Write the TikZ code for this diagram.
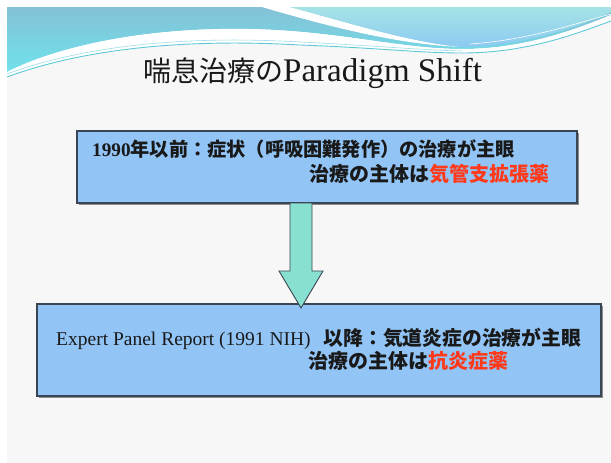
\documentclass[tikz,border=0pt]{standalone}
\usepackage{fontspec}
\setmainfont{Liberation Serif}
\newfontfamily\cjk{Noto Sans CJK JP}
\definecolor{slidebg}{HTML}{F7F7F7}
\definecolor{boxfill}{HTML}{92C5F6}
\definecolor{boxline}{HTML}{3A4654}
\definecolor{arrowfill}{HTML}{88E0D0}
\definecolor{redtxt}{HTML}{FF3A1A}
\definecolor{waveA}{HTML}{84C1D6}
\definecolor{waveB}{HTML}{6FE2EC}
\definecolor{waveC}{HTML}{A6E3E5}
\definecolor{waveD}{HTML}{8CCAF2}
\definecolor{waveline}{HTML}{5EC8D8}
\tikzset{
  slidebox/.style={draw=boxline, line width=1.1pt, fill=boxfill, inner sep=0pt},
  txt/.style={inner sep=0pt, text=black!90},
}
\begin{document}
\begin{tikzpicture}[x=1pt,y=-1pt]
\useasboundingbox (0,0) rectangle (611,463);
\fill[white] (0,0) rectangle (611,463);
\fill[slidebg] (7,7) rectangle (611,463);
% header waves
\shade[top color=waveA, bottom color=waveB]
  (7,7) -- (611,7) -- (611,15) .. controls (570,32) and (520,49) .. (462,49)
  .. controls (400,49) and (340,31) .. (250,29)
  .. controls (150,27) and (60,45) .. (7,72) -- cycle;
\fill[white] (7,72) .. controls (60,45) and (150,27) .. (250,29)
  .. controls (340,31) and (400,49) .. (462,49)
  .. controls (520,49) and (570,32) .. (611,15) -- (611,21)
  .. controls (580,32) and (530,53) .. (462,53)
  .. controls (420,53) and (380,48) .. (300,45)
  .. controls (180,38) and (80,50) .. (7,77) -- cycle;
\draw[waveline, line width=0.9pt] (7,77) .. controls (80,50) and (180,38) .. (300,45)
  .. controls (380,48) and (420,53) .. (462,53)
  .. controls (530,53) and (580,32) .. (611,21);
\draw[waveline!60, line width=0.6pt] (7,74) .. controls (80,47) and (180,35) .. (300,42)
  .. controls (380,46) and (420,50) .. (462,51);
\fill[white] (262,7) -- (290,7) .. controls (360,26) and (410,42) .. (462,47)
  .. controls (410,45) and (350,33) .. (262,7) -- cycle;
\shade[top color=waveC, bottom color=waveD]
  (290,7) -- (611,7) -- (611,12) .. controls (570,30) and (520,46) .. (462,47)
  .. controls (410,42) and (360,26) .. (290,7) -- cycle;
\draw[white, line width=0.6pt] (470,44) .. controls (530,40) and (580,22) .. (611,14);
% title
\node[txt, anchor=base west] (title) at (143,81)
  {{\cjk\fontsize{28}{32}\selectfont 喘息治療の}{\fontsize{33}{36}\selectfont Paradigm Shift}};
% boxes
\fill[black!45] (79,133) rectangle (579,205);
\node[slidebox, minimum width=500pt, minimum height=72pt] (box1) at (327,167) {};
\fill[black!45] (39,306) rectangle (603,398);
\node[slidebox, minimum width=564pt, minimum height=92pt] (box2) at (319,350) {};
% arrow
\draw[boxline, line width=0.9pt, fill=arrowfill]
  (290,203) -- (312,203) -- (312,271) -- (323,271) -- (301,308) -- (279,271) -- (290,271) -- cycle;
% texts
\node[txt, anchor=base west] (t1a) at (92,156)
  {\fontsize{19.2}{23}\selectfont{\bfseries 1990}{\cjk\bfseries 年以前：症状（呼吸困難発作）の治療が主眼}};
\node[txt, anchor=base east] (t1b) at (550,181)
  {\fontsize{20}{23}\selectfont\cjk\bfseries 治療の主体は\textcolor{redtxt}{気管支拡張薬}};
\node[txt, anchor=base west] (t2a) at (56,345)
  {\fontsize{19.5}{23}\selectfont Expert Panel Report (1991 NIH)\hspace{13pt}{\cjk\bfseries\fontsize{19.8}{23}\selectfont 以降：気道炎症の治療が主眼}};
\node[txt, anchor=base west] (t2b) at (308,368)
  {\fontsize{20}{23}\selectfont\cjk\bfseries 治療の主体は\textcolor{redtxt}{抗炎症薬}};
\end{tikzpicture}
\end{document}
